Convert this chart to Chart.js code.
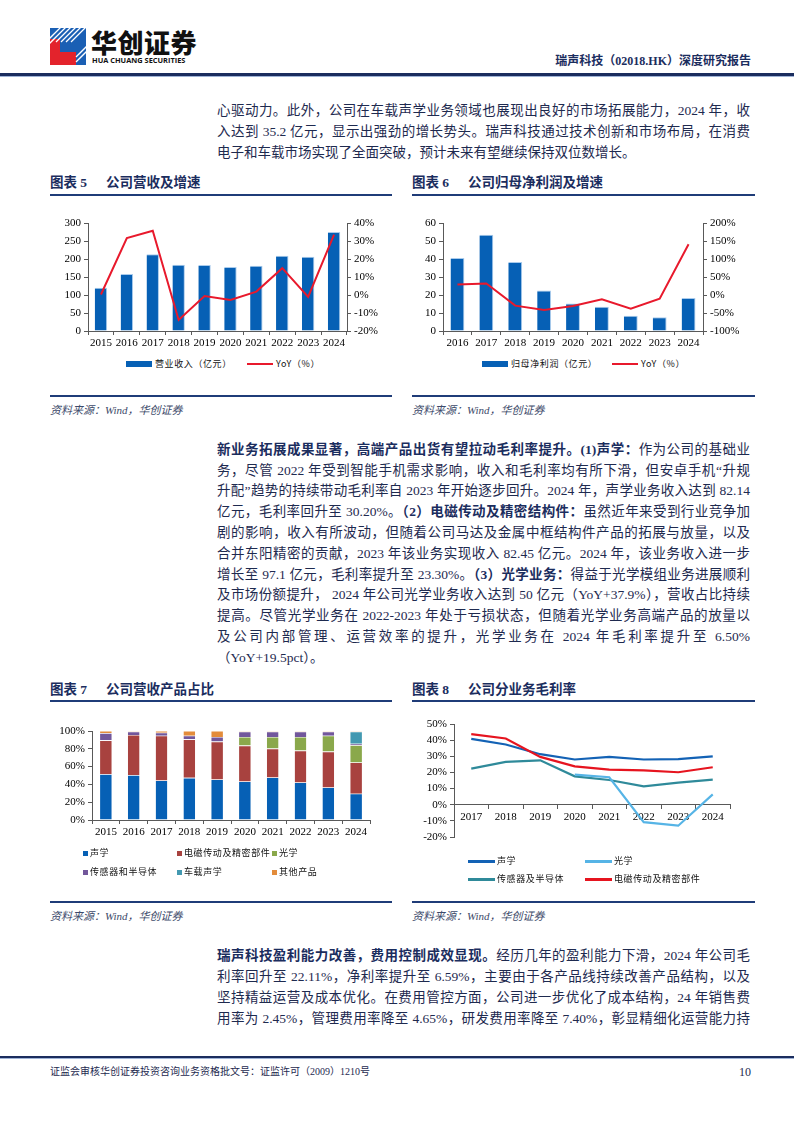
<!DOCTYPE html>
<html lang="zh-CN">
<head>
<meta charset="utf-8">
<title>瑞声科技（02018.HK）深度研究报告</title>
<script src="https://cdn.jsdelivr.net/npm/chart.js@4.4.1/dist/chart.umd.min.js"></script>
<style>
html, body { margin: 0; padding: 0; background: #fff; }
body { width: 794px; height: 1123px; position: relative; overflow: hidden;
       font-family: "Liberation Serif", "Noto Sans CJK SC", serif; color: #1e2a4f; }
.abs { position: absolute; }
.para { position: absolute; left: 217px; width: 533px; font-size: 13.5px; }
.para div { text-align: justify; text-align-last: justify; white-space: nowrap; }
.para div.last { text-align-last: left; }
.para b { font-weight: 700; color: #1b2d5e; }
.title { position: absolute; font-size: 13.5px; font-weight: 700; color: #1b2d5e; height: 20px; line-height: 20px; }
.title span { display: inline-block; width: 56px; }
.rule { position: absolute; height: 2px; background: #1f3c78; }
.src { position: absolute; font-size: 11px; font-style: italic; color: #3d4a6a; line-height: 14px; }
.lg { position: absolute; font-family: "Noto Sans CJK SC", sans-serif; font-size: 9px; letter-spacing: 0.6px; color: #111; line-height: 12px; white-space: nowrap; }
.sw { position: absolute; }
canvas { position: absolute; }
</style>
</head>
<body>

<!-- 页眉 -->
<svg class="abs" style="left:50px;top:28px" width="36" height="37" viewBox="0 0 36 37">
  <defs><clipPath id="c"><rect x="0" y="0" width="36" height="37"/></clipPath></defs>
  <g clip-path="url(#c)">
    <rect x="0" y="0" width="36" height="37" fill="#1a5fb4"/>
    <polygon points="0,11 0,37 26,37 26,24 10,24 10,11" fill="#e3232c"/>
    <g stroke="#fff" stroke-width="1.3">
      <line x1="-4" y1="14" x2="14" y2="-4"/>
      <line x1="-4" y1="19" x2="19" y2="-4"/>
      <line x1="6" y1="14" x2="24" y2="-4"/>
      <line x1="11" y1="14" x2="29" y2="-4"/>
      <line x1="16" y1="14" x2="34" y2="-4"/>
      <line x1="21" y1="14" x2="39" y2="-4"/>
      <line x1="26" y1="29" x2="41" y2="14"/>
      <line x1="26" y1="34" x2="41" y2="19"/>
    </g>
  </g>
</svg>
<div class="abs" style="left:91px;top:26px;font-family:'Noto Sans CJK SC',sans-serif;font-weight:900;font-size:26px;line-height:32px;color:#111;letter-spacing:0.5px">华创证券</div>
<div class="abs" style="left:92px;top:56px;font-family:'Open Sans','Noto Sans',sans-serif;font-weight:700;font-size:7.4px;line-height:9px;color:#111">HUA CHUANG SECURITIES</div>
<div class="abs" style="right:43px;top:53px;font-size:12px;font-weight:700;color:#1b2d5e;line-height:16px">瑞声科技（02018.HK）深度研究报告</div>
<div class="abs" style="left:0;top:73px;width:794px;height:3px;background:#1b2d5e"></div>
<div class="abs" style="left:0;top:76px;width:794px;height:1px;background:#9fb3d6"></div>

<!-- 正文 1 -->
<div class="para" style="top:99.5px;line-height:21px">
  <div>心驱动力。此外，公司在车载声学业务领域也展现出良好的市场拓展能力，2024 年，收</div>
  <div>入达到 35.2 亿元，显示出强劲的增长势头。瑞声科技通过技术创新和市场布局，在消费</div>
  <div class="last">电子和车载市场实现了全面突破，预计未来有望继续保持双位数增长。</div>
</div>

<!-- 图表 5 / 6 标题 -->
<div class="title" style="left:50px;top:173px"><span>图表 5</span>公司营收及增速</div>
<div class="rule" style="left:50px;top:194px;width:342px"></div>
<div class="title" style="left:412px;top:173px"><span>图表 6</span>公司归母净利润及增速</div>
<div class="rule" style="left:412px;top:194px;width:343px"></div>

<canvas id="chart5" width="345" height="150" style="left:50px;top:200px"></canvas>
<canvas id="chart6" width="345" height="150" style="left:412px;top:200px"></canvas>

<div class="sw" style="left:126px;top:361px;width:26px;height:6px;background:#0660b5"></div>
<div class="lg" style="left:155px;top:358px">营业收入（亿元）</div>
<div class="sw" style="left:247px;top:363px;width:26px;height:2px;background:#e8192c"></div>
<div class="lg" style="left:276px;top:358px">YoY（%）</div>

<div class="sw" style="left:482px;top:361px;width:26px;height:6px;background:#0660b5"></div>
<div class="lg" style="left:511px;top:358px">归母净利润（亿元）</div>
<div class="sw" style="left:612px;top:363px;width:26px;height:2px;background:#e8192c"></div>
<div class="lg" style="left:641px;top:358px">YoY（%）</div>

<div class="rule" style="left:50px;top:395px;width:342px"></div>
<div class="rule" style="left:412px;top:395px;width:343px"></div>
<div class="src" style="left:50px;top:403px">资料来源：Wind，华创证券</div>
<div class="src" style="left:412px;top:403px">资料来源：Wind，华创证券</div>

<!-- 正文 2 -->
<div class="para" style="top:439.8px;line-height:20.8px">
  <div><b>新业务拓展成果显著，高端产品出货有望拉动毛利率提升。(1)声学：</b>作为公司的基础业</div>
  <div>务，尽管 2022 年受到智能手机需求影响，收入和毛利率均有所下滑，但安卓手机“升规</div>
  <div>升配”趋势的持续带动毛利率自 2023 年开始逐步回升。2024 年，声学业务收入达到 82.14</div>
  <div>亿元，毛利率回升至 30.20%。<b>（2）电磁传动及精密结构件：</b>虽然近年来受到行业竞争加</div>
  <div>剧的影响，收入有所波动，但随着公司马达及金属中框结构件产品的拓展与放量，以及</div>
  <div>合并东阳精密的贡献，2023 年该业务实现收入 82.45 亿元。2024 年，该业务收入进一步</div>
  <div>增长至 97.1 亿元，毛利率提升至 23.30%。<b>（3）光学业务：</b>得益于光学模组业务进展顺利</div>
  <div>及市场份额提升， 2024 年公司光学业务收入达到 50 亿元（YoY+37.9%），营收占比持续</div>
  <div>提高。尽管光学业务在 2022-2023 年处于亏损状态，但随着光学业务高端产品的放量以</div>
  <div>及公司内部管理、运营效率的提升，光学业务在 2024 年毛利率提升至 6.50%</div>
  <div class="last">（YoY+19.5pct）。</div>
</div>

<!-- 图表 7 / 8 标题 -->
<div class="title" style="left:50px;top:680px"><span>图表 7</span>公司营收产品占比</div>
<div class="rule" style="left:50px;top:700px;width:342px"></div>
<div class="title" style="left:412px;top:680px"><span>图表 8</span>公司分业务毛利率</div>
<div class="rule" style="left:412px;top:700px;width:343px"></div>

<canvas id="chart7" width="345" height="132" style="left:50px;top:708px"></canvas>
<canvas id="chart8" width="345" height="140" style="left:412px;top:708px"></canvas>

<div id="legend7"></div>
<div id="legend8"></div>

<div class="rule" style="left:50px;top:901px;width:342px"></div>
<div class="rule" style="left:412px;top:901px;width:343px"></div>
<div class="src" style="left:50px;top:909px">资料来源：Wind，华创证券</div>
<div class="src" style="left:412px;top:909px">资料来源：Wind，华创证券</div>

<!-- 正文 3 -->
<div class="para" style="top:946.2px;line-height:20.9px">
  <div><b>瑞声科技盈利能力改善，费用控制成效显现。</b>经历几年的盈利能力下滑，2024 年公司毛</div>
  <div>利率回升至 22.11%，净利率提升至 6.59%，主要由于各产品线持续改善产品结构，以及</div>
  <div>坚持精益运营及成本优化。在费用管控方面，公司进一步优化了成本结构，24 年销售费</div>
  <div>用率为 2.45%，管理费用率降至 4.65%，研发费用率降至 7.40%，彰显精细化运营能力持</div>
</div>

<!-- 页脚 -->
<div class="abs" style="left:0;top:1056px;width:794px;height:2px;background:#1b2d5e"></div>
<div class="abs" style="left:0;top:1058px;width:794px;height:1px;background:#9fb3d6"></div>
<div class="abs" style="left:50px;top:1065px;font-size:10px;line-height:14px;color:#1e2a4f">证监会审核华创证券投资咨询业务资格批文号：证监许可（2009）1210号</div>
<div class="abs" style="right:43px;top:1064px;font-size:12px;line-height:16px;color:#1e2a4f">10</div>

<script>
// 图表 5：营收及增速
const years5 = ['2015', '2016', '2017', '2018', '2019', '2020', '2021', '2022', '2023', '2024'];
const revenue5 = [120, 158, 213, 184, 183, 178, 181, 209, 206, 275];
const revenueYoy5 = [0.3, 31.6, 35.7, -13.9, -0.6, -2.8, 1.9, 14.9, -1.1, 33.5];

// 图表 6：归母净利润及增速
const years6 = ['2016', '2017', '2018', '2019', '2020', '2021', '2022', '2023', '2024'];
const netProfit6 = [40.5, 53.5, 38.3, 22.5, 15.3, 13.5, 8.5, 7.6, 18.3];
const profitYoy6 = [29.5, 32, -29.5, -41.5, -30.5, -12, -38, -10, 141];

// 图表 7：营收产品占比（%）
const years7 = ['2015', '2016', '2017', '2018', '2019', '2020', '2021', '2022', '2023', '2024'];
const shareAcoustic = [51.5, 50.5, 44.4, 47.4, 45.5, 43.3, 47.8, 42.2, 36.6, 29.5];
const shareEM = [38, 45, 50.4, 43.3, 42.6, 40.3, 32.4, 35.8, 40.3, 35.1];
const shareOptics = [0, 0, 0, 0, 0, 9.7, 13.1, 15.3, 17.9, 19.4];
const shareSensor = [8.2, 3.8, 3.3, 4.1, 5.2, 6, 6, 6, 4.5, 1.8];
const shareCar = [0, 0, 0, 0, 0, 0, 0, 0, 0, 13.5];
const shareOther = [2.3, 0.7, 1.9, 5.2, 6.7, 0.7, 0.7, 0.7, 0.7, 0.7];

// 图表 8：分业务毛利率（%）
const years8 = ['2017', '2018', '2019', '2020', '2021', '2022', '2023', '2024'];
const gmAcoustic = [40.8, 37.3, 31.3, 28, 29.6, 28, 28.2, 30];
const gmOptics = [null, null, null, 18.6, 17, -10.8, -13, 6.4];
const gmSensor = [22.4, 26.5, 27.5, 17.6, 15.3, 11.4, 13.7, 15.5];
const gmEM = [43.7, 41, 29.6, 23.8, 21.7, 21.3, 20.1, 23.2];

const axisColor = '#595959';
const tickFont = { family: "'Liberation Serif', 'Times New Roman', serif", size: 11 };
const pct = v => v + '%';

function valueAxis(position, min, max, step, width, fmt) {
    const ticks = { stepSize: step, color: '#000', font: tickFont, padding: 3, autoSkip: false };
    if (fmt) ticks.callback = fmt;
    return {
        position: position, min: min, max: max, ticks: ticks,
        grid: { display: true, drawOnChartArea: false, drawTicks: true, tickLength: 4, color: axisColor },
        border: { color: axisColor, width: 1 },
        afterFit: s => { s.width = width; }
    };
}

function categoryAxis(height) {
    const ax = {
        offset: true,
        ticks: { color: '#000', font: tickFont, padding: 2, maxRotation: 0, autoSkip: false },
        grid: { display: true, drawOnChartArea: false, drawTicks: true, tickLength: 4, offset: true, color: axisColor },
        border: { color: axisColor, width: 1 }
    };
    if (height) ax.afterFit = s => { s.height = height; };
    return ax;
}

const baseOptions = {
    responsive: false,
    animation: false,
    events: [],
    plugins: { legend: { display: false }, tooltip: { enabled: false } }
};

// 图表 5
new Chart(document.getElementById('chart5'), {
    data: {
        labels: years5,
        datasets: [{
            type: 'line', label: 'YoY（%）', data: revenueYoy5, yAxisID: 'y1', order: 0,
            borderColor: '#e8192c', borderWidth: 2, pointRadius: 0, tension: 0
        }, {
            type: 'bar', label: '营业收入（亿元）', data: revenue5, yAxisID: 'y', order: 1,
            backgroundColor: '#0660b5', borderColor: '#a9cbec', borderWidth: { top: 1, right: 1 },
            categoryPercentage: 1, barPercentage: 0.48
        }]
    },
    options: Object.assign({}, baseOptions, {
        layout: { padding: { top: 23, left: 0, right: 0, bottom: 0 } },
        scales: {
            x: categoryAxis(19),
            y: valueAxis('left', 0, 300, 50, 38),
            y1: valueAxis('right', -20, 40, 10, 48, pct)
        }
    })
});

// 图表 6
new Chart(document.getElementById('chart6'), {
    data: {
        labels: years6,
        datasets: [{
            type: 'line', label: 'YoY（%）', data: profitYoy6, yAxisID: 'y1', order: 0,
            borderColor: '#e8192c', borderWidth: 2, pointRadius: 0, tension: 0
        }, {
            type: 'bar', label: '归母净利润（亿元）', data: netProfit6, yAxisID: 'y', order: 1,
            backgroundColor: '#0660b5', borderColor: '#a9cbec', borderWidth: { top: 1, right: 1 },
            categoryPercentage: 1, barPercentage: 0.48
        }]
    },
    options: Object.assign({}, baseOptions, {
        layout: { padding: { top: 23, left: 0, right: 0, bottom: 0 } },
        scales: {
            x: categoryAxis(19),
            y: valueAxis('left', 0, 60, 10, 31),
            y1: valueAxis('right', -100, 200, 50, 54, pct)
        }
    })
});

// 图表 7
const series7 = [
    { label: '声学', data: shareAcoustic, color: '#0660b5' },
    { label: '电磁传动及精密部件', data: shareEM, color: '#a8423f' },
    { label: '光学', data: shareOptics, color: '#8aa84b' },
    { label: '传感器和半导体', data: shareSensor, color: '#72579b' },
    { label: '车载声学', data: shareCar, color: '#4399b1' },
    { label: '其他产品', data: shareOther, color: '#e38c3b' }
];
const y7 = valueAxis('left', 0, 100, 20, 42, pct);
y7.stacked = true;
const x7 = categoryAxis(20);
x7.stacked = true;
new Chart(document.getElementById('chart7'), {
    type: 'bar',
    data: {
        labels: years7,
        datasets: series7.map(s => ({
            label: s.label, data: s.data, backgroundColor: s.color,
            borderColor: 'rgba(255,255,255,0.35)', borderWidth: { top: 0.6 },
            categoryPercentage: 1, barPercentage: 0.42
        }))
    },
    options: Object.assign({}, baseOptions, {
        layout: { padding: { top: 23, left: 0, right: 25, bottom: 0 } },
        scales: { x: x7, y: y7 }
    })
});

// 图表 8
const series8 = [
    { label: '声学', data: gmAcoustic, color: '#1362b5' },
    { label: '光学', data: gmOptics, color: '#56b4e6' },
    { label: '传感器及半导体', data: gmSensor, color: '#2f8a9a' },
    { label: '电磁传动及精密部件', data: gmEM, color: '#e6141f' }
];
const x8 = categoryAxis();
x8.position = { y: 0 };
new Chart(document.getElementById('chart8'), {
    type: 'line',
    data: {
        labels: years8,
        datasets: series8.map((s, i) => ({
            label: s.label, data: s.data, borderColor: s.color, borderWidth: 2.2,
            pointRadius: 0, tension: 0, spanGaps: false, order: [2, 0, 3, 1][i]
        }))
    },
    options: Object.assign({}, baseOptions, {
        layout: { padding: { top: 16, left: 0, right: 27, bottom: 11 } },
        scales: { x: x8, y: valueAxis('left', -20, 50, 10, 42, pct) }
    })
});

// 图例（HTML）
function legendItem(parent, x, y, color, text, kind) {
    const sw = document.createElement('div');
    sw.className = 'sw';
    if (kind === 'line') {
        sw.style.cssText = `left:${x}px;top:${y - 1}px;width:27px;height:2.5px;background:${color}`;
    } else {
        sw.style.cssText = `left:${x}px;top:${y - 2.5}px;width:5px;height:5px;background:${color}`;
    }
    const lb = document.createElement('div');
    lb.className = 'lg';
    lb.style.left = (x + (kind === 'line' ? 29 : 7)) + 'px';
    lb.style.top = (y - 6) + 'px';
    lb.textContent = text;
    parent.appendChild(sw);
    parent.appendChild(lb);
}

const lg7 = document.getElementById('legend7');
const cols7 = [83, 177, 272];
const rows7 = [853, 872];
series7.forEach((s, i) => legendItem(lg7, cols7[i % 3], rows7[Math.floor(i / 3)], s.color, s.label, 'box'));

const lg8 = document.getElementById('legend8');
const cols8 = [468, 585];
const rows8 = [861, 879];
series8.forEach((s, i) => legendItem(lg8, cols8[i % 2], rows8[Math.floor(i / 2)], s.color, s.label, 'line'));
</script>
</body>
</html>
